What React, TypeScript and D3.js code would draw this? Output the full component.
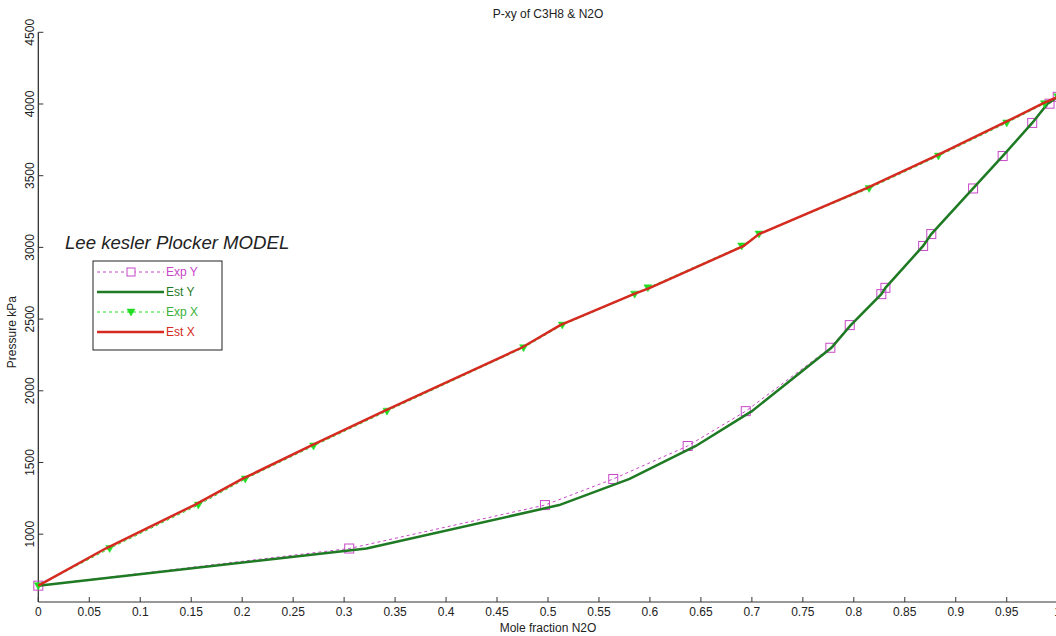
import React from "react";
import * as d3 from "d3";

// Measured pressures (kPa) shared by the experimental pairs
const pressureExp = [641, 900, 1203, 1385, 1615, 1858, 2300, 2458, 2674, 2718, 3010, 3093, 3411, 3637, 3868, 4002, 4050];
// Experimental liquid (x) and vapour (y) mole fractions of N2O
const expX = [0, 0.07, 0.157, 0.203, 0.27, 0.342, 0.476, 0.514, 0.585, 0.598, 0.69, 0.707, 0.815, 0.883, 0.95, 0.987, 1.0];
const expY = [0, 0.305, 0.497, 0.564, 0.637, 0.694, 0.777, 0.796, 0.827, 0.831, 0.868, 0.876, 0.917, 0.946, 0.975, 0.992, 1.0];
// Estimated (Lee Kesler Plocker) values
const estX = [0, 0.066, 0.153, 0.2, 0.267, 0.339, 0.474, 0.512, 0.584, 0.6, 0.692, 0.707, 0.812, 0.88, 0.947, 0.985, 1.0];
const estY = [0, 0.322, 0.511, 0.58, 0.645, 0.7, 0.778, 0.797, 0.827, 0.831, 0.868, 0.876, 0.917, 0.946, 0.975, 0.99, 1.0];

const xTicks = d3.range(0, 21).map((i) => i * 0.05);
const yTicks = [1000, 1500, 2000, 2500, 3000, 3500, 4000, 4500];

const titleText = "P-xy of C3H8 & N2O";
const xLabel = "Mole fraction N2O";
const yLabel = "Pressure kPa";
const noteText = "Lee kesler Plocker MODEL";
const legendNames = ["Exp Y", "Est Y", "Exp X", "Est X"];

const W = 1056;
const H = 636;
const FONT = "'Liberation Sans', Arial, sans-serif";

const C_EXPY = "#c848c8";
const C_ESTY = "#1f7a24";
const C_EXPX = "#22dd22";
const C_ESTX = "#d42a20";

export default function App() {
  const x = d3.scaleLinear().domain([0, 1]).range([38.3, 1057.7]);
  const y = d3.scaleLinear().domain([527, 4500]).range([602, 32.3]);
  const line = d3
    .line<[number, number]>()
    .x((d) => x(d[0]))
    .y((d) => y(d[1]));

  const expYPts: [number, number][] = expY.map((v, i) => [v, pressureExp[i]]);
  const expXPts: [number, number][] = expX.map((v, i) => [v, pressureExp[i]]);
  const estYPts: [number, number][] = estY.map((v, i) => [v, pressureExp[i]]);
  const estXPts: [number, number][] = estX.map((v, i) => [v, pressureExp[i]]);

  const tri = (cx: number, cy: number) =>
    `M${cx - 4},${cy - 3}L${cx + 4},${cy - 3}L${cx},${cy + 4}Z`;

  const x0 = x(0);
  const yb = y(527);

  const legX = 93;
  const legY = 261;
  const rows = [272, 292, 312, 332];
  const sx1 = 97;
  const sx2 = 164;
  const mx = 131;

  return (
    <svg
      width={W}
      height={H}
      style={{ position: "absolute", left: 0, top: 0, background: "#fff" }}
      fontFamily={FONT}
    >
      <rect x={0} y={0} width={W} height={H} fill="#fff" />
      {/* title */}
      <text x={(x(0) + x(1)) / 2} y={18} fontSize={12} textAnchor="middle" fill="#222">
        {titleText}
      </text>
      {/* axes */}
      <line x1={x0} x2={x0} y1={y(4500)} y2={yb} stroke="#222" strokeWidth={1.2} />
      <line x1={x0} x2={W} y1={yb} y2={yb} stroke="#333" strokeWidth={1.2} />
      {xTicks.map((t) => (
        <g key={"xt" + t}>
          <line x1={x(t)} x2={x(t)} y1={yb} y2={yb - 5} stroke="#333" />
          <text x={x(t)} y={yb + 14} fontSize={12} textAnchor="middle" fill="#222">
            {String(+t.toFixed(2))}
          </text>
        </g>
      ))}
      {yTicks.map((t) => (
        <g key={"yt" + t}>
          <line x1={x0} x2={x0 + 5} y1={y(t)} y2={y(t)} stroke="#333" />
          <text
            transform={`translate(${x0 - 4},${y(t)}) rotate(-90)`}
            fontSize={12}
            textAnchor="middle"
            fill="#222"
          >
            {t}
          </text>
        </g>
      ))}
      <text x={(x(0) + x(1)) / 2} y={632} fontSize={12} textAnchor="middle" fill="#222">
        {xLabel}
      </text>
      <text transform={`translate(16,${(y(4500) + yb) / 2 + 15}) rotate(-90)`} fontSize={12} textAnchor="middle" fill="#222">
        {yLabel}
      </text>

      {/* Exp Y */}
      <path d={line(expYPts) || ""} fill="none" stroke={C_EXPY} strokeWidth={1} strokeDasharray="3,3" />
      {expYPts.map((d, i) => (
        <rect key={"sq" + i} x={x(d[0]) - 4.5} y={y(d[1]) - 4.5} width={9} height={9} fill="none" stroke={C_EXPY} strokeWidth={1} />
      ))}
      {/* Est Y */}
      <path d={line(estYPts) || ""} fill="none" stroke={C_ESTY} strokeWidth={2.5} />
      {/* Exp X */}
      <path d={line(expXPts) || ""} fill="none" stroke={C_EXPX} strokeWidth={1} strokeDasharray="3,3" />
      {expXPts.map((d, i) => (
        <path key={"tr" + i} d={tri(x(d[0]), y(d[1]))} fill={C_EXPX} stroke={C_EXPX} strokeWidth={0.5} />
      ))}
      {/* Est X */}
      <path d={line(estXPts) || ""} fill="none" stroke={C_ESTX} strokeWidth={2.5} />

      {/* annotation */}
      <text x={65} y={249} fontSize={18.6} fontStyle="italic" fill="#222">
        {noteText}
      </text>

      {/* legend */}
      <rect x={legX} y={legY} width={129} height={89} fill="#fff" stroke="#222" strokeWidth={1} />
      {/* row 0 Exp Y */}
      <line x1={sx1} x2={sx2} y1={rows[0]} y2={rows[0]} stroke={C_EXPY} strokeDasharray="3,3" />
      <rect x={mx - 4} y={rows[0] - 4} width={8} height={8} fill="#fff" stroke={C_EXPY} />
      <text x={sx2 + 2} y={rows[0] + 4} fontSize={12} fill={C_EXPY}>{legendNames[0]}</text>
      {/* row 1 Est Y */}
      <line x1={sx1} x2={sx2} y1={rows[1]} y2={rows[1]} stroke={C_ESTY} strokeWidth={2.5} />
      <text x={sx2 + 2} y={rows[1] + 4} fontSize={12} fill={C_ESTY}>{legendNames[1]}</text>
      {/* row 2 Exp X */}
      <line x1={sx1} x2={sx2} y1={rows[2]} y2={rows[2]} stroke={C_EXPX} strokeDasharray="3,3" />
      <path d={tri(mx, rows[2])} fill={C_EXPX} stroke={C_EXPX} strokeWidth={0.5} />
      <text x={sx2 + 2} y={rows[2] + 4} fontSize={12} fill="#3ab03a">{legendNames[2]}</text>
      {/* row 3 Est X */}
      <line x1={sx1} x2={sx2} y1={rows[3]} y2={rows[3]} stroke={C_ESTX} strokeWidth={2.5} />
      <text x={sx2 + 2} y={rows[3] + 4} fontSize={12} fill={C_ESTX}>{legendNames[3]}</text>
    </svg>
  );
}
